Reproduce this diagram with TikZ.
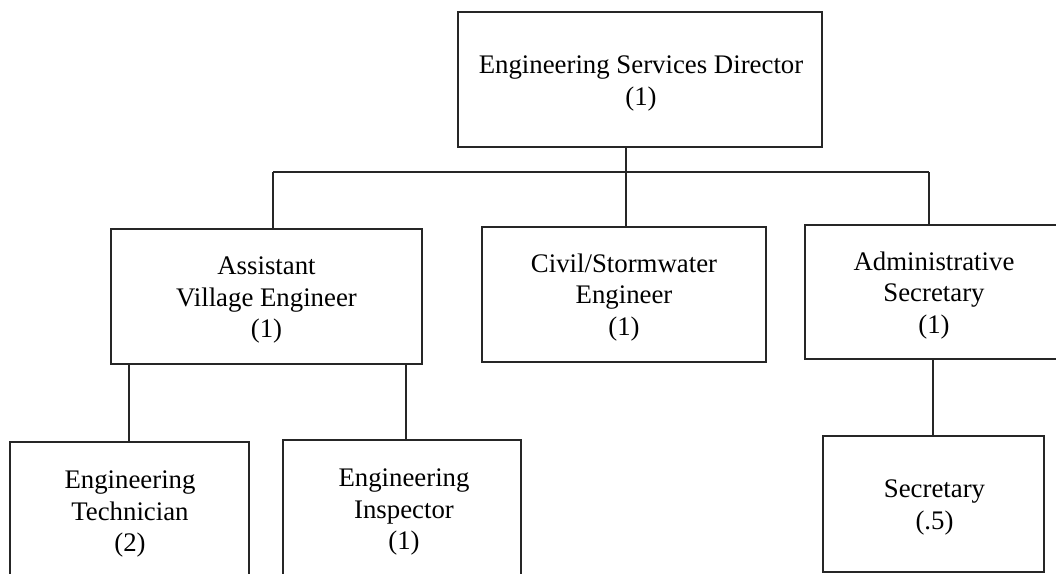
\documentclass[tikz,border=0pt]{standalone}
\usepackage{fontspec}
\setmainfont{Liberation Serif}
\begin{document}
\begin{tikzpicture}[x=1pt, y=-1pt,
  box/.style={draw=black!85, line width=2pt, rectangle, inner sep=0pt, outer sep=0pt},
  txt/.style={inner sep=0pt, align=center, font=\fontsize{26.8}{31.5}\selectfont},
  link/.style={draw=black!85, line width=1.9pt}]
  \useasboundingbox (0,0) rectangle (1056,573);
  \clip (0,0) rectangle (1056,573);

  % top level
  \node[box, minimum width=364, minimum height=135] (dir) at (640,79) {};
  \node[txt] (dirt) at (641,83.5) {Engineering Services Director\\(1)};

  % second level
  \node[box, minimum width=311, minimum height=135] (ave) at (266.5,296) {};
  \node[txt] (avet) at (266.5,300) {Assistant\\Village Engineer\\(1)};
  \node[box, minimum width=284, minimum height=135] (civ) at (624,294) {};
  \node[txt] (civt) at (624,297.5) {Civil/Stormwater\\Engineer\\(1)};
  \node[box, minimum width=259, minimum height=134] (adm) at (934.5,291.5) {};
  \node[txt] (admt) at (934,295.5) {Administrative\\Secretary\\(1)};

  % third level (the two left boxes run past the lower edge)
  \node[box, minimum width=239, minimum height=140] (tech) at (129.5,512) {};
  \node[txt] (techt) at (130,514) {Engineering\\Technician\\(2)};
  \node[box, minimum width=238, minimum height=140] (insp) at (402,510) {};
  \node[txt] (inspt) at (404,512) {Engineering\\Inspector\\(1)};
  \node[box, minimum width=221, minimum height=136] (sec) at (933.5,503.5) {};
  \node[txt] (sect) at (934.5,507.5) {Secretary\\(.5)};

  % connectors
  \coordinate (busL) at (273,172);
  \coordinate (busR) at (929,172);
  \draw[link] (busL) -- (busR);
  \draw[link] (busL) -- (busL |- ave.north);
  \draw[link] (busR) -- (busR |- adm.north);
  \draw[link] ([xshift=2pt]dir.south -| civ.north) -- ([xshift=2pt]civ.north);
  \draw[link] ([xshift=-0.5pt]ave.south -| tech.north) -- ([xshift=-0.5pt]tech.north);
  \draw[link] ([xshift=4pt]ave.south -| insp.north) -- ([xshift=4pt]insp.north);
  \draw[link] ([xshift=-0.5pt]adm.south -| sec.north) -- ([xshift=-0.5pt]sec.north);
\end{tikzpicture}
\end{document}
